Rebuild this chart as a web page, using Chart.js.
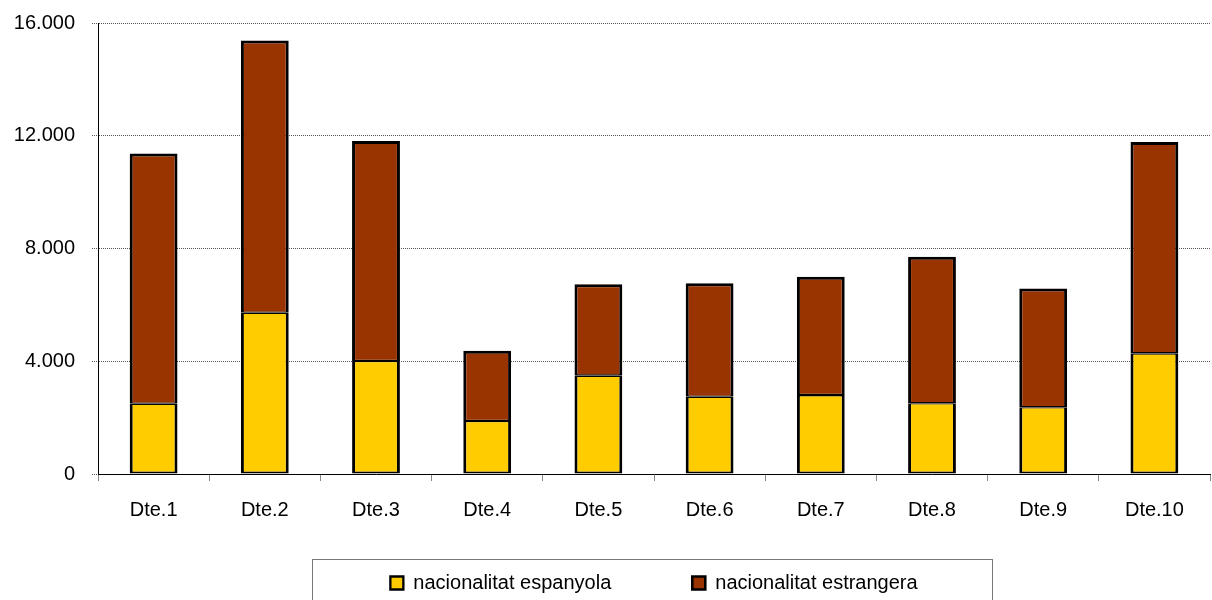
<!DOCTYPE html>
<html>
<head>
<meta charset="utf-8">
<script src="https://cdn.jsdelivr.net/npm/chart.js@4"></script>
<style>
    html, body { margin: 0; padding: 0; background: #fff; }
    #wrap { width: 1212px; height: 600px; position: relative; }
</style>
</head>
<body>
<div id="wrap"><canvas id="chart"></canvas></div>
<script>
    // ── Data ──
    var districtes = ["Dte.1", "Dte.2", "Dte.3", "Dte.4", "Dte.5", "Dte.6", "Dte.7", "Dte.8", "Dte.9", "Dte.10"];
    var espanyola = [2490, 5720, 4010, 1880, 3490, 2740, 2800, 2510, 2370, 4280];
    var estrangera = [8880, 9660, 7800, 2490, 3240, 4030, 4200, 5200, 4210, 7500];
    var yTicks = [0, 4000, 8000, 12000, 16000];

    function formatNum(v) {
        return String(v).replace(/\B(?=(\d{3})+(?!\d))/g, ".");
    }

    // legend sits closer to the axis labels than the layout would put it
    var legendTweak = {
        id: "legendTweak",
        afterLayout: function (chart) {
            var lg = chart.legend;
            lg.top = chart.chartArea.bottom + 18;
            lg.bottom = chart.height + 10;
            lg.height = lg.bottom - lg.top;
        },
        afterDraw: function (chart) {
            // frame round the legend
            var ctx = chart.ctx;
            var area = chart.chartArea;
            var cx = (area.left + area.right) / 2;
            var top = chart.legend.top + chart.options.plugins.legend.labels.padding - 14;
            ctx.save();
            ctx.strokeStyle = "#777";
            ctx.lineWidth = 1;
            ctx.strokeRect(Math.round(cx - 342) + 0.5, Math.round(top) + 0.5, 680, 80);
            ctx.restore();
        }
    };

    var font = { family: "'Liberation Sans', Arial, sans-serif", size: 20 };

    new Chart(document.getElementById("chart"), {
        type: "bar",
        data: {
            labels: districtes,
            datasets: [
                {
                    label: "nacionalitat espanyola",
                    data: espanyola,
                    backgroundColor: "#FFCC00",
                    borderColor: "#000",
                    borderWidth: { left: 3, right: 3, bottom: 2, top: 1.3 },
                    borderSkipped: false,
                    barPercentage: 0.43,
                    categoryPercentage: 1
                },
                {
                    label: "nacionalitat estrangera",
                    data: estrangera,
                    backgroundColor: "#993300",
                    borderColor: "#000",
                    borderWidth: { left: 3, right: 3, bottom: 1.3, top: 3 },
                    borderSkipped: false,
                    barPercentage: 0.43,
                    categoryPercentage: 1
                }
            ]
        },
        options: {
            responsive: true,
            maintainAspectRatio: false,
            animation: false,
            layout: { padding: { top: 23, right: 2, left: 0, bottom: 0 } },
            scales: {
                x: {
                    stacked: true,
                    grid: {
                        display: true,
                        drawOnChartArea: false,
                        drawTicks: true,
                        tickLength: 7,
                        tickColor: "#888",
                        offset: true
                    },
                    border: { color: "#000", width: 1 },
                    ticks: { color: "#000", font: font, padding: 17, maxRotation: 0 },
                    afterFit: function (scale) { scale.height = 48; }
                },
                y: {
                    stacked: true,
                    min: 0,
                    max: 16000,
                    afterBuildTicks: function (scale) {
                        scale.ticks = yTicks.map(function (v) { return { value: v }; });
                    },
                    grid: {
                        color: "#555",
                        tickLength: 6,
                        tickColor: "#555",
                        tickBorderDash: [1, 1]
                    },
                    border: { color: "#000", width: 1, dash: [1, 1] },
                    ticks: {
                        color: "#000",
                        font: font,
                        padding: 17,
                        callback: function (v) { return formatNum(v); }
                    },
                    afterFit: function (scale) {
                        scale.width = 98;
                        scale.paddingTop = 0;
                        scale.paddingBottom = 0;
                    }
                }
            },
            plugins: {
                legend: {
                    position: "bottom",
                    fullSize: false,
                    maxHeight: 78,
                    labels: {
                        color: "#000",
                        font: font,
                        boxWidth: 13,
                        boxHeight: 13,
                        padding: 81
                    }
                },
                tooltip: { enabled: false }
            }
        },
        plugins: [legendTweak]
    });
</script>
</body>
</html>
